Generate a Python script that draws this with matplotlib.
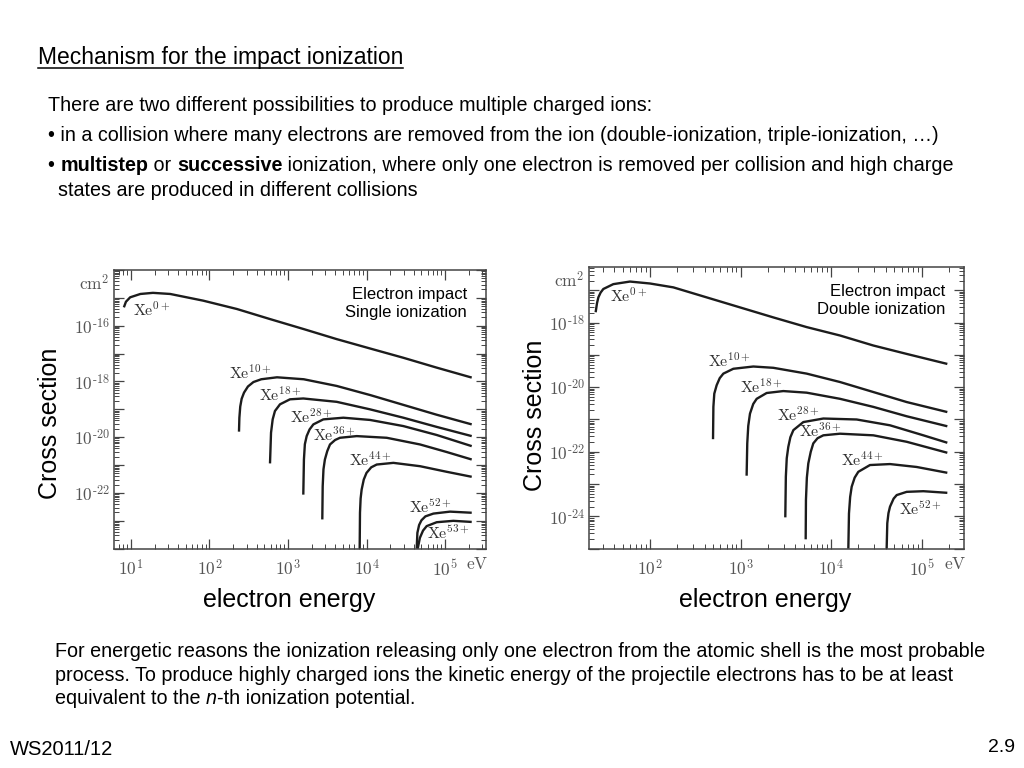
import numpy as np
import matplotlib
matplotlib.use("Agg")
import matplotlib.pyplot as plt
from matplotlib.lines import Line2D
from matplotlib.ticker import LogLocator, FuncFormatter, NullFormatter

plt.rcParams['font.family'] = ['Liberation Sans', 'DejaVu Sans']
plt.rcParams['mathtext.fontset'] = 'cm'

# ---- data: (log10 E [eV], log10 sigma [cm^2]) ----
# left panel: single ionization
s_xe0 = [(0.91, -15.34), (0.936, -15.14), (0.99, -14.98), (1.12, -14.86), (1.28, -14.82),
         (1.50, -14.86), (1.92, -15.10), (2.35, -15.40), (2.77, -15.76), (3.20, -16.12),
         (3.62, -16.48), (4.05, -16.82), (4.47, -17.15), (4.89, -17.50), (5.34, -17.86)]
s_xe10 = [(2.376, -19.80), (2.381, -19.30), (2.392, -18.90), (2.41, -18.62), (2.44, -18.40),
          (2.49, -18.18), (2.56, -18.02), (2.66, -17.92), (2.86, -17.85), (3.20, -17.92),
          (3.62, -18.16), (4.05, -18.49), (4.47, -18.84), (4.89, -19.19), (5.34, -19.54)]
s_xe18 = [(2.771, -20.94), (2.784, -19.84), (2.805, -19.36), (2.834, -19.06), (2.898, -18.82),
          (3.025, -18.64), (3.195, -18.61), (3.62, -18.73), (4.045, -19.00), (4.469, -19.30),
          (4.894, -19.63), (5.34, -19.96)]
s_xe28 = [(3.195, -22.06), (3.203, -20.80), (3.215, -20.25), (3.238, -19.96), (3.275, -19.72),
          (3.323, -19.54), (3.45, -19.36), (3.705, -19.30), (4.045, -19.38), (4.469, -19.60),
          (4.894, -19.92), (5.34, -20.32)]
s_xe36 = [(3.437, -22.95), (3.442, -21.76), (3.452, -21.15), (3.47, -20.80), (3.50, -20.50),
          (3.535, -20.26), (3.60, -20.10), (3.662, -20.02), (3.875, -19.96), (4.257, -20.02),
          (4.682, -20.26), (5.02, -20.53), (5.34, -20.80)]
s_xe44 = [(3.913, -24.0), (3.917, -22.71), (3.925, -22.20), (3.938, -21.88), (3.965, -21.52),
          (4.00, -21.28), (4.06, -21.08), (4.13, -20.98), (4.342, -20.92), (4.682, -21.04),
          (5.02, -21.24), (5.34, -21.42)]
s_xe52 = [(4.639, -24.0), (4.648, -23.43), (4.67, -23.15), (4.70, -22.98), (4.75, -22.84),
          (4.852, -22.74), (5.064, -22.67), (5.34, -22.71)]
s_xe53 = [(4.652, -24.0), (4.68, -23.61), (4.72, -23.35), (4.766, -23.19), (4.894, -23.05),
          (5.106, -23.00), (5.34, -23.04)]

# right panel: double ionization
d_xe0 = [(1.40, -17.68), (1.415, -17.40), (1.43, -17.22), (1.455, -17.07), (1.485, -16.96),
         (1.595, -16.81), (1.779, -16.73), (2.00, -16.79), (2.258, -16.91), (2.626, -17.22),
         (2.994, -17.53), (3.362, -17.84), (3.73, -18.14), (4.098, -18.40), (4.466, -18.71),
         (4.834, -18.97), (5.283, -19.28)]
d_xe10 = [(2.696, -21.61), (2.700, -20.61), (2.71, -20.20), (2.736, -19.94), (2.77, -19.72),
          (2.81, -19.58), (2.92, -19.43), (3.141, -19.36), (3.362, -19.40), (3.73, -19.58),
          (4.098, -19.84), (4.466, -20.15), (4.834, -20.46), (5.283, -20.77)]
d_xe18 = [(3.067, -22.74), (3.074, -21.74), (3.085, -21.20), (3.104, -20.82), (3.14, -20.52),
          (3.178, -20.36), (3.288, -20.18), (3.472, -20.12), (3.73, -20.17), (4.098, -20.36),
          (4.466, -20.61), (4.834, -20.90), (5.283, -21.21)]
d_xe28 = [(3.494, -24.03), (3.500, -22.77), (3.51, -22.20), (3.527, -21.85), (3.55, -21.55),
          (3.583, -21.33), (3.693, -21.08), (3.914, -20.97), (4.282, -21.00), (4.65, -21.18),
          (5.018, -21.49), (5.283, -21.72)]
d_xe36 = [(3.719, -24.71), (3.722, -23.49), (3.732, -22.80), (3.748, -22.36), (3.775, -22.00),
          (3.803, -21.74), (3.85, -21.58), (3.914, -21.49), (4.098, -21.44), (4.466, -21.49),
          (4.834, -21.69), (5.283, -22.03)]
d_xe44 = [(4.19, -25.0), (4.197, -23.91), (4.21, -23.40), (4.227, -23.08), (4.26, -22.80),
          (4.30, -22.62), (4.429, -22.41), (4.65, -22.38), (4.944, -22.47), (5.283, -22.65)]
d_xe52 = [(4.613, -25.0), (4.62, -24.21), (4.633, -23.90), (4.65, -23.70), (4.69, -23.45),
          (4.724, -23.34), (4.834, -23.24), (5.018, -23.22), (5.283, -23.27)]

single_curves = [s_xe0, s_xe10, s_xe18, s_xe28, s_xe36, s_xe44, s_xe52, s_xe53]
single_ions = ['0+', '10+', '18+', '28+', '36+', '44+', '52+', '53+']
single_label_at = [(1.02, -15.40), (2.253, -17.68), (2.635, -18.46), (3.025, -19.24),
                   (3.323, -19.90), (3.781, -20.80), (4.546, -22.47), (4.775, -23.41)]

double_curves = [d_xe0, d_xe10, d_xe18, d_xe28, d_xe36, d_xe44, d_xe52]
double_ions = ['0+', '10+', '18+', '28+', '36+', '44+', '52+']
double_label_at = [(1.558, -17.17), (2.644, -19.17), (2.994, -19.98), (3.399, -20.84),
                   (3.649, -21.33), (4.109, -22.24), (4.753, -23.75)]

W, H = 1024, 768
fig = plt.figure(figsize=(W / 100, H / 100), dpi=100)
renderer = fig.canvas.get_renderer()

ink = '#1c1c1c'
grey = '#555555'


def pow_label(v, keep):
    n = int(round(np.log10(v)))
    if n not in keep:
        return ''
    if n < 0:
        return r'$10^{\text{-}%d}$' % -n
    return r'$10^{%d}$' % n


def panel(rect, curves, ions, label_at, xlim, ylim, xlab, ylab, box_text):
    ax = fig.add_axes(rect)
    for c in curves:
        arr = np.array(c)
        ax.plot(10 ** arr[:, 0], 10 ** arr[:, 1], color=ink, lw=1.7, solid_capstyle='butt')
    for ion, (lx, ly) in zip(ions, label_at):
        ax.text(10 ** lx, 10 ** ly, r'$\mathrm{Xe}^{%s}$' % ion, fontsize=11.5,
                color='#333333', ha='left', va='center')
    ax.set_xscale('log')
    ax.set_yscale('log')
    ax.set_xlim(10 ** xlim[0], 10 ** xlim[1])
    ax.set_ylim(10 ** ylim[0], 10 ** ylim[1])
    ax.xaxis.set_major_locator(LogLocator(base=10, numticks=30))
    ax.yaxis.set_major_locator(LogLocator(base=10, numticks=30))
    ax.xaxis.set_minor_locator(LogLocator(base=10, subs=np.arange(2, 10), numticks=300))
    ax.yaxis.set_minor_locator(LogLocator(base=10, subs=np.arange(2, 10), numticks=300))
    ax.xaxis.set_minor_formatter(NullFormatter())
    ax.yaxis.set_minor_formatter(NullFormatter())
    ax.xaxis.set_major_formatter(FuncFormatter(lambda v, p: pow_label(v, xlab)))
    ax.yaxis.set_major_formatter(FuncFormatter(lambda v, p: pow_label(v, ylab)))
    ax.tick_params(which='both', direction='in', top=True, right=True, colors='#444444',
                   labelcolor=grey, labelsize=12.5)
    ax.tick_params(which='major', length=7, width=0.9)
    ax.tick_params(which='minor', length=3.5, width=0.7)
    ax.tick_params(axis='x', pad=7)
    ax.tick_params(axis='y', pad=3)
    for s in ax.spines.values():
        s.set_color('#444444')
        s.set_linewidth(1.1)
    ax.text(0.977, -0.027, r'$\mathrm{eV}$', transform=ax.transAxes, ha='center', va='top',
            fontsize=12.5, color=grey)
    ax.text(-0.012, 0.953, r'$\mathrm{cm}^2$', transform=ax.transAxes, ha='right',
            va='center', fontsize=12.5, color=grey)
    ax.text(0.95, 0.88, box_text, transform=ax.transAxes, ha='right', va='center',
            fontsize=12, color='black', linespacing=1.2)
    return ax


panel([114.3 / W, 1 - 548.7 / H, 371.4 / W, 278.7 / H], single_curves, single_ions,
      single_label_at, (0.788, 5.518), (-24, -14), [1, 2, 3, 4, 5], [-16, -18, -20, -22],
      'Electron impact\nSingle ionization')
panel([589.3 / W, 1 - 548.7 / H, 374.7 / W, 282.0 / H], double_curves, double_ions,
      double_label_at, (1.33, 5.467), (-25, -16.27), [2, 3, 4, 5], [-18, -20, -22, -24],
      'Electron impact\nDouble ionization')

# axis captions
fig.text(50 / W, 1 - 423 / H, 'Cross section', rotation=90, ha='center', va='center', fontsize=18)
fig.text(535 / W, 1 - 415 / H, 'Cross section', rotation=90, ha='center', va='center', fontsize=18)
fig.text(289 / W, 1 - 600 / H, 'electron energy', ha='center', va='center', fontsize=18)
fig.text(765 / W, 1 - 600 / H, 'electron energy', ha='center', va='center', fontsize=18)


def line(x_px, base_px, parts, size):
    # write a line made of differently styled pieces, one after the other
    x = x_px
    for s, kw in parts:
        t = fig.text(x / W, 1 - base_px / H, s, fontsize=size, ha='left', va='baseline', **kw)
        x += t.get_window_extent(renderer).width
    return x


plain = {}
bold = {'weight': 'bold'}
ital = {'style': 'italic'}
body = 14.2

x_end = line(38, 64, [('Mechanism for the impact ionization', plain)], 16.5)
fig.add_artist(Line2D([38 / W, x_end / W], [1 - 68 / H, 1 - 68 / H], color='black', lw=1.1))

line(48, 111, [('There are two different possibilities to produce multiple charged ions:', plain)], body)
line(48, 141, [('\u2022 in a collision where many electrons are removed from the ion '
                '(double-ionization, triple-ionization, \u2026)', plain)], body)
line(48, 171, [('\u2022 ', plain), ('multistep', bold), (' or ', plain), ('successive', bold),
               (' ionization, where only one electron is removed per collision and high charge',
                plain)], body)
line(58, 196, [('states are produced in different collisions', plain)], body)

line(55, 657, [('For energetic reasons the ionization releasing only one electron from the '
                'atomic shell is the most probable', plain)], body)
line(55, 681, [('process. To produce highly charged ions the kinetic energy of the projectile '
                'electrons has to be at least', plain)], body)
line(55, 704, [('equivalent to the ', plain), ('n', ital), ('-th ionization potential.', plain)], body)

fig.text(10 / W, 1 - 755 / H, 'WS2011/12', ha='left', va='baseline', fontsize=14.5)
fig.text(1015 / W, 1 - 752 / H, '2.9', ha='right', va='baseline', fontsize=14)

fig.savefig('out.png', dpi=100)
